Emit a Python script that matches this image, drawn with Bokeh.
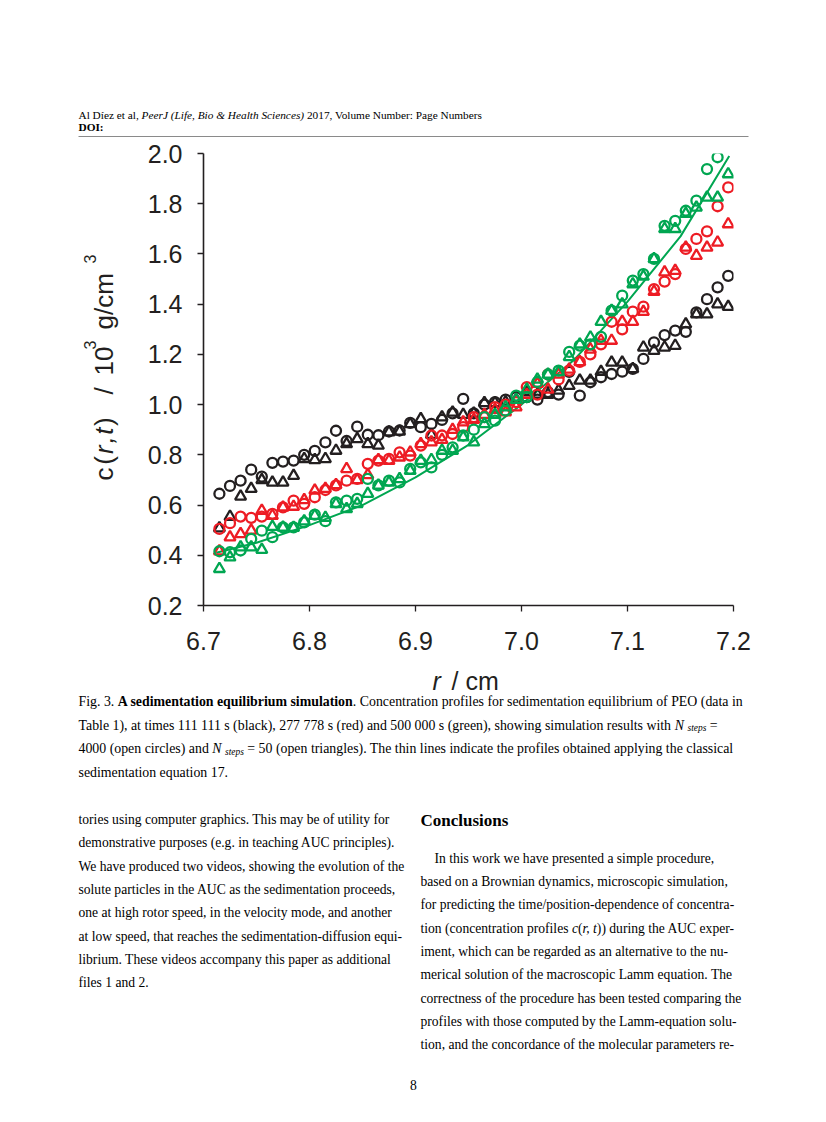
import math, subprocess
import numpy as np
from bokeh.plotting import figure
from bokeh.layouts import column, row
from bokeh.models import Range1d, FixedTicker
from bokeh.embed import file_html
from bokeh.resources import INLINE
from bokeh.core.properties import value

# ---------------- data ----------------
r = [6.715, 6.725, 6.735, 6.745, 6.755, 6.765, 6.775, 6.785, 6.795, 6.805,
     6.815, 6.825, 6.835, 6.845, 6.855, 6.865, 6.875, 6.885, 6.895, 6.905,
     6.915, 6.925, 6.935, 6.945, 6.955, 6.965, 6.975, 6.985, 6.995, 7.005,
     7.015, 7.025, 7.035, 7.045, 7.055, 7.065, 7.075, 7.085, 7.095, 7.105,
     7.115, 7.125, 7.135, 7.145, 7.155, 7.165, 7.175, 7.185, 7.195]

black_circles = [0.645, 0.676, 0.697, 0.741, 0.713, 0.768, 0.773, 0.777, 0.800, 0.816,
                 0.850, 0.896, 0.855, 0.912, 0.880, 0.878, 0.893, 0.897, 0.927, 0.910,
                 0.923, 0.939, 0.965, 1.023, 0.965, 1.000, 1.010, 1.020, 1.030, 1.030,
                 1.020, 1.050, 1.040, 1.130, 1.036, 1.089, 1.109, 1.122, 1.131, 1.142,
                 1.182, 1.248, 1.277, 1.295, 1.290, 1.367, 1.420, 1.467, 1.513]
black_triangles = [0.508, 0.554, 0.634, 0.665, 0.700, 0.690, 0.690, 0.717, 0.784, 0.780,
                   0.784, 0.817, 0.843, 0.863, 0.843, 0.837, 0.890, 0.893, 0.923, 0.943,
                   0.880, 0.950, 0.969, 0.960, 0.965, 1.007, 1.007, 1.010, 1.020, 1.050,
                   1.040, 1.040, 1.056, 1.075, 1.096, 1.096, 1.131, 1.168, 1.168, 1.142,
                   1.228, 1.215, 1.228, 1.235, 1.320, 1.360, 1.360, 1.400, 1.390]
red_circles = [0.505, 0.528, 0.554, 0.549, 0.554, 0.565, 0.591, 0.618, 0.605, 0.631,
               0.660, 0.678, 0.697, 0.704, 0.764, 0.777, 0.784, 0.810, 0.797, 0.837,
               0.877, 0.877, 0.883, 0.910, 0.950, 0.950, 0.990, 1.000, 1.010, 1.070,
               1.040, 1.120, 1.100, 1.135, 1.170, 1.200, 1.240, 1.330, 1.300, 1.370,
               1.390, 1.460, 1.490, 1.520, 1.620, 1.660, 1.690, 1.790, 1.865]
red_triangles = [0.416, 0.472, 0.485, 0.499, 0.578, 0.558, 0.591, 0.594, 0.620, 0.658,
                 0.665, 0.680, 0.744, 0.700, 0.720, 0.780, 0.777, 0.790, 0.810, 0.843,
                 0.850, 0.860, 0.900, 0.930, 0.940, 0.960, 0.980, 0.970, 0.990, 1.040,
                 1.083, 1.060, 1.120, 1.140, 1.170, 1.220, 1.255, 1.255, 1.330, 1.330,
                 1.370, 1.450, 1.527, 1.533, 1.626, 1.593, 1.626, 1.646, 1.719]
green_circles = [0.416, 0.412, 0.419, 0.465, 0.498, 0.472, 0.511, 0.511, 0.531, 0.562,
                 0.536, 0.611, 0.618, 0.625, 0.704, 0.678, 0.697, 0.690, 0.744, 0.770,
                 0.750, 0.800, 0.830, 0.877, 0.900, 0.950, 0.936, 0.976, 1.036, 1.030,
                 1.090, 1.120, 1.135, 1.210, 1.235, 1.240, 1.270, 1.374, 1.434, 1.494,
                 1.520, 1.580, 1.712, 1.732, 1.772, 1.812, 1.938, 1.985, float("nan")]
green_triangles = [0.346, 0.392, 0.432, 0.432, 0.422, 0.514, 0.511, 0.510, 0.536, 0.558,
                   0.550, 0.605, 0.585, 0.605, 0.645, 0.678, 0.690, 0.704, 0.737, 0.777,
                   0.780, 0.817, 0.817, 0.870, 0.850, 0.923, 0.960, 0.990, 1.020, 1.060,
                   1.100, 1.120, 1.130, 1.190, 1.240, 1.268, 1.330, 1.374, 1.400, 1.480,
                   1.510, 1.580, 1.700, 1.700, 1.760, 1.785, 1.825, 1.825, 1.918]

# classical sedimentation-equation profile (thin line)
r_line = [6.712, 6.75, 6.80, 6.85, 6.90, 6.95, 7.00, 7.05, 7.10, 7.15, 7.196]
green_line = [0.41, 0.45, 0.52, 0.60, 0.71, 0.84, 1.00, 1.18, 1.41, 1.67, 1.99]

x_ticks = [6.7, 6.8, 6.9, 7.0, 7.1, 7.2]
x_tick_labels = ["6.7", "6.8", "6.9", "7.0", "7.1", "7.2"]
y_ticks = [0.2, 0.4, 0.6, 0.8, 1.0, 1.2, 1.4, 1.6, 1.8, 2.0]
y_tick_labels = ["0.2", "0.4", "0.6", "0.8", "1.0", "1.2", "1.4", "1.6", "1.8", "2.0"]

header_parts = [("Al Díez et al, ", "normal"), ("PeerJ (Life, Bio & Health Sciences)", "italic"),
                (" 2017, Volume Number: Page Numbers", "normal")]
doi_text = "DOI:"
caption_lines = [
    [("Fig. 3. ", "normal"), ("A sedimentation equilibrium simulation", "bold"),
     (". Concentration profiles for sedimentation equilibrium of PEO (data in", "normal")],
    [("Table 1), at times 111 111 s (black), 277 778 s (red) and 500 000 s (green), showing simulation results with ", "normal"),
     ("N", "italic"), (" ", "normal"), ("steps", "sub"), (" =", "normal")],
    [("4000 (open circles) and ", "normal"), ("N", "italic"), (" ", "normal"), ("steps", "sub"),
     (" = 50 (open triangles). The thin lines indicate the profiles obtained applying the classical", "normal")],
    [("sedimentation equation 17.", "normal")],
]
left_lines = [
    "tories using computer graphics. This may be of utility for",
    "demonstrative purposes (e.g. in teaching AUC principles).",
    "We have produced two videos, showing the evolution of the",
    "solute particles in the AUC as the sedimentation proceeds,",
    "one at high rotor speed, in the velocity mode, and another",
    "at low speed, that reaches the sedimentation-diffusion equi-",
    "librium. These videos accompany this paper as additional",
    "files 1 and 2.",
]
heading = "Conclusions"
right_lines = [
    [("In this work we have presented a simple procedure,", "normal")],
    [("based on a Brownian dynamics, microscopic simulation,", "normal")],
    [("for predicting the time/position-dependence of concentra-", "normal")],
    [("tion (concentration profiles ", "normal"), ("c", "italic"), ("(", "normal"), ("r,", "italic"),
     (" ", "normal"), ("t", "italic"), (")) during the AUC exper-", "normal")],
    [("iment, which can be regarded as an alternative to the nu-", "normal")],
    [("merical solution of the macroscopic Lamm equation. The", "normal")],
    [("correctness of the procedure has been tested comparing the", "normal")],
    [("profiles with those computed by the Lamm-equation solu-", "normal")],
    [("tion, and the concordance of the molecular parameters re-", "normal")],
]
page_number = "8"

# ---------------- helpers ----------------
try:
    from PIL import ImageFont
except Exception:
    ImageFont = None

_fonts = {}
def _font(family, style):
    key = (family, style)
    if key in _fonts:
        return _fonts[key]
    f = None
    if ImageFont is not None:
        try:
            st = {"normal": "Regular", "bold": "Bold", "italic": "Italic"}[style]
            path = subprocess.run(["fc-match", "-f", "%{file}", f"{family}:style={st}"],
                                  capture_output=True, text=True, timeout=10).stdout.strip()
            if path:
                f = ImageFont.truetype(path, 100)
        except Exception:
            f = None
    _fonts[key] = f
    return f

def tw(s, family, style, size):
    if not s:
        return 0.0
    f = _font(family, style)
    if f is not None:
        try:
            return f.getlength(s) * size / 100.0
        except Exception:
            pass
    return 0.48 * size * len(s)

SERIF = "Liberation Serif"
SANS = "Liberation Sans"
INK = "#231f20"

def page_fig(x0, x1, y0, y1, yr=None):
    p = figure(width=int(x1 - x0), height=int(y1 - y0), x_range=Range1d(x0, x1),
               y_range=Range1d(-yr[1], -yr[0]) if yr else Range1d(-y1, -y0),
               x_axis_location=None, y_axis_location=None,
               toolbar_location=None, output_backend="svg", min_border=0, title=None)
    p.outline_line_color = None
    p.grid.visible = False
    return p

def put(p, x, y, s, family, style, size, color="black", align="left", angle=0.0):
    p.text(x=[x], y=[-y], text=[s], angle=angle, text_font=value(family), text_font_style=style,
           text_font_size=f"{size}px", text_color=color, text_align=align,
           text_baseline="alphabetic")

def runs(p, x, y, parts, size, family=SERIF, color="black"):
    for s, st in parts:
        dy = 0
        sz = size
        if st == "sub":
            st, sz, dy = "italic", size * 0.68, 3
        body = s.lstrip(" ")
        x += tw(s[:len(s) - len(body)], family, st, sz)
        if body.strip():
            put(p, x, y + dy, body, family, st, sz, color)
        x += tw(body, family, st, sz)

# ---------------- header ----------------
hdr = page_fig(0, 818, 0, 140)
runs(hdr, 78, 114.5, header_parts, 11.3)
put(hdr, 78, 126.5, doi_text, SERIF, "bold", 11.3)
hdr.line(x=[78, 748], y=[-136, -136], line_color="#8a8a8a", line_width=1)

# ---------------- y label column (frame aligned with chart frame: page y 153..605) ----------------
ylab = page_fig(0, 128, 140, 662, yr=(153, 605))
YL = 26
SUP = 16
yb = 103
ys = 89
yy = 480
for s, st in [("c", "normal"), ("(", "normal"), ("r", "italic"), (",", "italic"), ("t", "italic"), (")", "normal")]:
    put(ylab, yb, yy, s, SANS, st, YL, INK, angle=math.pi / 2)
    yy -= tw(s, SANS, st, YL) * 1.22
put(ylab, yb, 394, "/", SANS, "normal", YL, INK, angle=math.pi / 2)
put(ylab, yb, 375, "10", SANS, "normal", YL, INK, angle=math.pi / 2)
put(ylab, ys, 349, "3", SANS, "normal", SUP, INK, angle=math.pi / 2)
put(ylab, yb, 329, "g/cm", SANS, "normal", YL, INK, angle=math.pi / 2)
put(ylab, ys, 263, "3", SANS, "normal", SUP, INK, angle=math.pi / 2)

# ---------------- chart ----------------
p = figure(width=690, height=522, x_range=Range1d(6.7, 7.2), y_range=Range1d(0.2, 2.0),
           toolbar_location=None, output_backend="svg", title=None,
           min_border_left=75, min_border_right=85, min_border_top=13, min_border_bottom=57)
p.outline_line_color = None
p.grid.visible = False
for ax, ticks, labels in [(p.xaxis, x_ticks, x_tick_labels), (p.yaxis, y_ticks, y_tick_labels)]:
    ax.ticker = FixedTicker(ticks=ticks)
    ax.major_label_overrides = dict(zip(ticks, labels))
    ax.axis_line_color = INK
    ax.axis_line_width = 1.6
    ax.major_tick_line_color = INK
    ax.major_tick_line_width = 1.3
    ax.major_tick_out = 6
    ax.major_tick_in = 0
    ax.minor_tick_out = 0
    ax.minor_tick_in = 0
    ax.major_label_text_font = SANS
    ax.major_label_text_font_size = "25px"
    ax.major_label_text_color = INK
p.yaxis.major_label_standoff = 15
p.xaxis.major_label_standoff = 20

BLACK, RED, GREEN = "#231f20", "#ed1c24", "#00a651"
p.line(r_line, green_line, line_color=GREEN, line_width=2)
for circ, tri, c in [(black_circles, black_triangles, BLACK), (red_circles, red_triangles, RED),
                     (green_circles, green_triangles, GREEN)]:
    p.scatter(np.array(r), np.array(tri), marker="triangle", size=11, fill_color=None,
              line_color=c, line_width=2.3)
    p.scatter(np.array(r), np.array(circ), marker="circle", size=10, fill_color=None,
              line_color=c, line_width=2.3)

# ---------------- bottom: x label, caption, body ----------------
bot = page_fig(0, 818, 662, 1114)
put(bot, 432, 680, "r", SANS, "italic", 25, INK)
put(bot, 451, 680, "/ cm", SANS, "normal", 25, INK)

CAP = 13.85
BODY = 13.6
for i, parts in enumerate(caption_lines):
    runs(bot, 78, 701 + 23.7 * i, parts, CAP)

for i, s in enumerate(left_lines):
    put(bot, 78, 819 + 23.35 * i, s, SERIF, "normal", BODY)

put(bot, 420, 820, heading, SERIF, "bold", 17)
for i, parts in enumerate(right_lines):
    runs(bot, 434 if i == 0 else 420, 857.5 + 23.35 * i, parts, BODY)

put(bot, 413, 1084, page_number, SERIF, "normal", BODY, align="center")

layout = column(hdr, row(ylab, p, spacing=0), bot, spacing=0)
open("out.html", "w").write(file_html(layout, INLINE))
